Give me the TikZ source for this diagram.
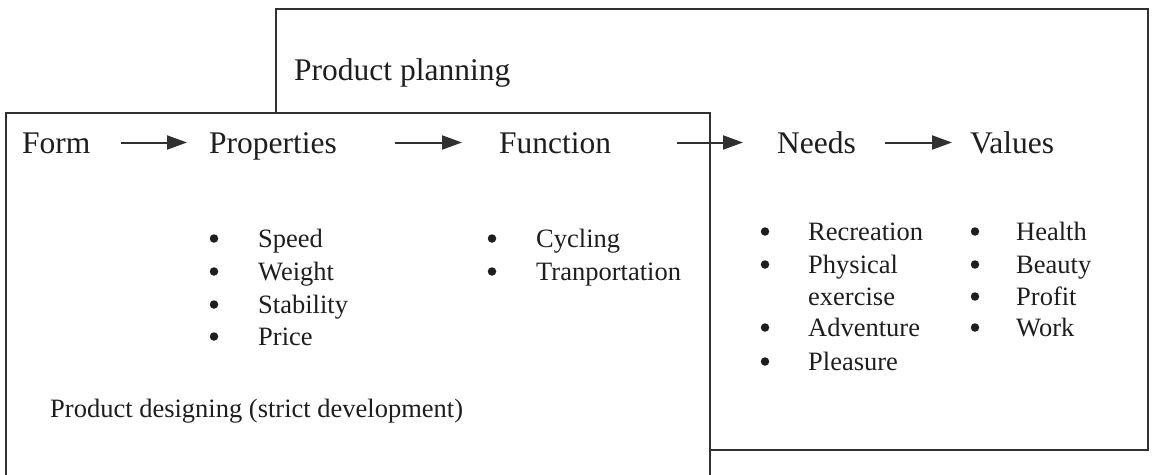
\documentclass[tikz,border=0pt]{standalone}
\usepackage{fontspec}
\setmainfont{Liberation Serif}
\usetikzlibrary{arrows.meta}
\definecolor{ink}{HTML}{1E1E1E}
\definecolor{linec}{HTML}{303030}
\newcommand\lstitem[5]{%
  \node[bul] (#1b) at (#2,#4-8.5) {};
  \node[itm] (#1) at (#3,#4) {#5};}
\begin{document}
\begin{tikzpicture}[x=1pt,y=-1pt,
  head/.style={font=\fontsize{31.5}{36}\selectfont, text=ink, inner sep=0pt, anchor=base west, text height=21pt, text depth=0pt},
  itm/.style={font=\fontsize{26.5}{32}\selectfont, text=ink, inner sep=0pt, anchor=base west},
  bul/.style={circle, fill=ink, inner sep=0pt, minimum size=8.5pt},
  arr/.style={line width=2pt, draw=linec, -{Triangle[length=20pt,width=14pt]}},
  box/.style={draw=linec, line width=2pt, inner sep=0pt, anchor=north west}]
\useasboundingbox (0,0) rectangle (1156,474);
% boxes
\node[box, minimum width=872pt, minimum height=441pt] (plan) at (275,8) {};
\node[box, fill=white, minimum width=704pt, minimum height=420pt] (design) at (5,112) {};
% box labels
\node[font=\fontsize{31.5}{36}\selectfont, text=ink, inner sep=0pt, anchor=base west] (planlbl) at (294,80) {Product planning};
\node[itm] (designlbl) at (50,417) {Product designing (strict development)};
% headings
\node[head] (form) at (22,153) {Form};
\node[head] (properties) at (209,153) {Properties};
\node[head] (function) at (499,153) {Function};
\node[head] (needs) at (777,153) {Needs};
\node[head] (values) at (970,153) {Values};
% arrows
\draw[arr] ([xshift=30pt]form.east) -- ([xshift=-22pt]properties.west);
\draw[arr] ([xshift=58pt]properties.east) -- ([xshift=-37pt]function.west);
\draw[arr] ([xshift=66pt]function.east) -- ([xshift=-34pt]needs.west);
\draw[arr] ([xshift=29pt]needs.east) -- ([xshift=-18pt]values.west);
% properties list
\lstitem{speed}{214}{258}{247}{Speed}
\lstitem{weight}{214}{258}{280}{Weight}
\lstitem{stability}{214}{258}{313}{Stability}
\lstitem{price}{214}{258}{345}{Price}
% function list
\lstitem{cycling}{492}{536}{247}{Cycling}
\lstitem{transport}{492}{536}{280}{Tranportation}
% needs list
\lstitem{recreation}{765}{808}{240}{Recreation}
\lstitem{physical}{765}{808}{273}{Physical}
\node[itm] (exercise) at (808,305) {exercise};
\lstitem{adventure}{765}{808}{336}{Adventure}
\lstitem{pleasure}{765}{808}{370}{Pleasure}
% values list
\lstitem{health}{975}{1016}{240}{Health}
\lstitem{beauty}{975}{1016}{273}{Beauty}
\lstitem{profit}{975}{1016}{305}{Profit}
\lstitem{work}{975}{1016}{336}{Work}
\end{tikzpicture}
\end{document}
